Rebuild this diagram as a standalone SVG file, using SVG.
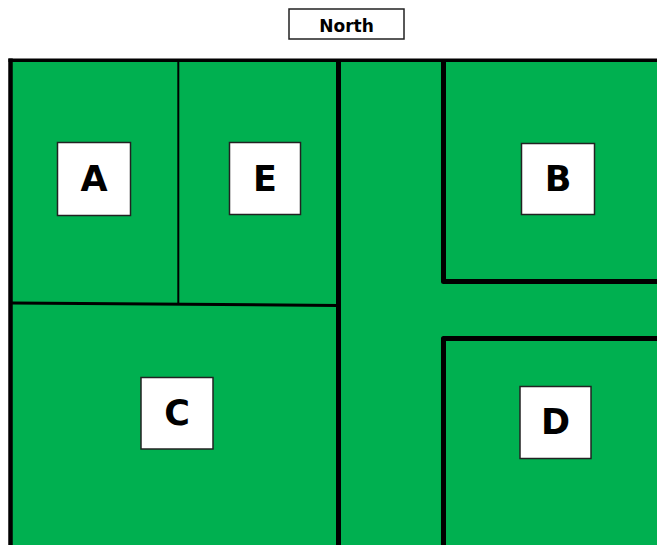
<svg xmlns="http://www.w3.org/2000/svg" width="657" height="545" viewBox="0 0 657 545">
<style>
.lbl{fill:#fff;stroke:#222;stroke-width:1.5}
.t{font-family:"DejaVu Sans","Liberation Sans",sans-serif;font-weight:bold;fill:#000;text-anchor:middle}
.big{font-size:35px}
.wall{stroke:#000;fill:none;stroke-linejoin:round}
</style>
<rect width="657" height="545" fill="#fff"/>
<g id="north">
<rect class="lbl" x="289" y="9" width="115" height="30"/>
<text class="t" x="346.5" y="31.5" font-size="17">North</text>
</g>
<rect id="ground" x="10" y="60" width="647" height="485" fill="#00B050"/>
<g id="walls">
<path class="wall" d="M8.5 60.3 H657" stroke-width="3.5"/>
<path class="wall" d="M10.5 58.5 V545" stroke-width="4.5"/>
<path class="wall" d="M178.3 61 V303.5" stroke-width="2"/>
<path class="wall" d="M12 303 L338 305.5" stroke-width="3"/>
<path class="wall" d="M338.5 59 V545" stroke-width="5"/>
<path class="wall" d="M443.5 59 V281.5 H657" stroke-width="5"/>
<path class="wall" d="M443.5 545 V338.5 H657" stroke-width="5"/>
</g>
<g id="A">
<rect class="lbl" x="57.5" y="142.5" width="73" height="73"/>
<text class="t big" x="94" y="191">A</text>
</g>
<g id="E">
<rect class="lbl" x="229.5" y="142.5" width="71" height="72"/>
<text class="t big" x="265" y="191">E</text>
</g>
<g id="B">
<rect class="lbl" x="521.5" y="143.5" width="73" height="71"/>
<text class="t big" x="558" y="191">B</text>
</g>
<g id="C">
<rect class="lbl" x="141" y="377.5" width="72" height="71.5"/>
<text class="t big" x="177" y="425">C</text>
</g>
<g id="D">
<rect class="lbl" x="520" y="386.5" width="71" height="72"/>
<text class="t big" x="555.5" y="434">D</text>
</g>
</svg>
